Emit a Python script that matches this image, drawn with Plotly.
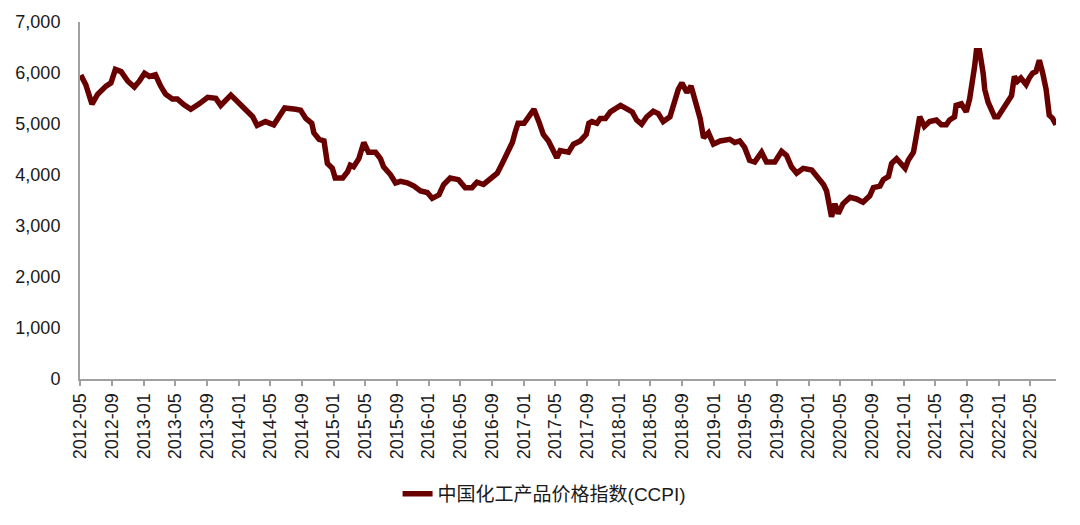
import plotly.graph_objects as go

dates = [
    "2012-05-04", "2012-05-23", "2012-06-16", "2012-07-08", "2012-08-09", "2012-08-28",
    "2012-09-14", "2012-10-06", "2012-11-01", "2012-11-26", "2012-12-15", "2013-01-04",
    "2013-01-23", "2013-02-15", "2013-03-07", "2013-03-26", "2013-04-21", "2013-05-10",
    "2013-06-05", "2013-07-01", "2013-08-02", "2013-09-04", "2013-10-05", "2013-10-24",
    "2013-12-02", "2014-01-04", "2014-02-05", "2014-02-24", "2014-03-13", "2014-04-14",
    "2014-05-16", "2014-06-07", "2014-06-27", "2014-08-08", "2014-08-27", "2014-09-16",
    "2014-10-09", "2014-10-17", "2014-11-06", "2014-11-25", "2014-12-08", "2014-12-27",
    "2015-01-07", "2015-01-22", "2015-02-05", "2015-02-24", "2015-03-06", "2015-03-19",
    "2015-04-08", "2015-04-27", "2015-05-15", "2015-06-11", "2015-06-30", "2015-07-12",
    "2015-08-08", "2015-08-27", "2015-09-15", "2015-10-11", "2015-11-06", "2015-12-01",
    "2015-12-27", "2016-01-15", "2016-02-10", "2016-02-28", "2016-03-24", "2016-04-25",
    "2016-05-21", "2016-06-16", "2016-07-05", "2016-07-30", "2016-08-25", "2016-09-21",
    "2016-10-10", "2016-10-29", "2016-11-18", "2016-11-30", "2016-12-10", "2017-01-02",
    "2017-01-21", "2017-02-09", "2017-02-28", "2017-03-17", "2017-04-06", "2017-04-25",
    "2017-05-08", "2017-05-21", "2017-06-22", "2017-07-11", "2017-08-06", "2017-08-29",
    "2017-09-08", "2017-09-20", "2017-10-09", "2017-10-22", "2017-11-11", "2017-11-30",
    "2017-12-19", "2018-01-08", "2018-01-27", "2018-02-22", "2018-03-11", "2018-03-30",
    "2018-04-19", "2018-05-14", "2018-06-02", "2018-06-21", "2018-07-17", "2018-07-29",
    "2018-08-18", "2018-09-01", "2018-09-20", "2018-10-06", "2018-10-21", "2018-11-10",
    "2018-11-23", "2018-12-12", "2018-12-31", "2019-01-26", "2019-03-04", "2019-03-23",
    "2019-04-11", "2019-04-30", "2019-05-19", "2019-06-08", "2019-07-04", "2019-07-23",
    "2019-08-24", "2019-09-19", "2019-10-08", "2019-10-27", "2019-11-16", "2019-12-11",
    "2020-01-13", "2020-02-08", "2020-02-27", "2020-03-10", "2020-03-22", "2020-03-29",
    "2020-04-11", "2020-04-24", "2020-05-12", "2020-06-08", "2020-07-03", "2020-07-28",
    "2020-08-23", "2020-09-06", "2020-10-01", "2020-10-14", "2020-11-03", "2020-11-15",
    "2020-12-04", "2020-12-23", "2021-01-06", "2021-01-18", "2021-02-07", "2021-02-17",
    "2021-02-26", "2021-03-03", "2021-03-21", "2021-04-10", "2021-05-06", "2021-05-25",
    "2021-06-13", "2021-06-26", "2021-07-15", "2021-07-21", "2021-08-10", "2021-08-29",
    "2021-09-11", "2021-09-24", "2021-09-30", "2021-10-07", "2021-10-19", "2021-11-02",
    "2021-11-08", "2021-11-21", "2021-12-04", "2021-12-16", "2021-12-29", "2022-01-18",
    "2022-02-06", "2022-02-19", "2022-03-02", "2022-03-14", "2022-03-27", "2022-04-16",
    "2022-04-28", "2022-05-11", "2022-05-24", "2022-06-06", "2022-06-19", "2022-07-02",
    "2022-07-14", "2022-07-27", "2022-08-09",
]

ccpi = [
    5960, 5774, 5390, 5585, 5744, 5806,
    6072, 6028, 5839, 5725, 5839, 5996,
    5933, 5964, 5744, 5585, 5490, 5490,
    5376, 5288, 5395, 5522, 5503, 5364,
    5566, 5395, 5237, 5142, 4972, 5047,
    4985, 5174, 5313, 5288, 5269, 5110,
    5015, 4826, 4700, 4668, 4226, 4131,
    3941, 3941, 3941, 4067, 4193, 4161,
    4320, 4636, 4446, 4446, 4320, 4161,
    4004, 3846, 3877, 3846, 3782, 3687,
    3656, 3542, 3611, 3814, 3941, 3909,
    3751, 3751, 3858, 3814, 3909, 4036,
    4226, 4415, 4636, 4858, 5015, 5015,
    5142, 5288, 5047, 4795, 4668, 4478,
    4339, 4478, 4446, 4605, 4668, 4795,
    5015, 5047, 5015, 5110, 5110, 5237,
    5288, 5364, 5313, 5237, 5079, 4996,
    5142, 5249, 5205, 5047, 5142, 5364,
    5679, 5806, 5617, 5744, 5490, 5110,
    4731, 4826, 4605, 4668, 4700, 4636,
    4668, 4541, 4288, 4256, 4446, 4256,
    4256, 4465, 4383, 4161, 4036, 4131,
    4099, 3941, 3814, 3687, 3340, 3182,
    3435, 3245, 3435, 3561, 3530, 3466,
    3593, 3751, 3782, 3909, 3972, 4226,
    4320, 4226, 4131, 4288, 4446, 4731,
    5079, 5142, 4953, 5047, 5079, 4985,
    4985, 5079, 5142, 5364, 5395, 5237,
    5490, 5839, 6123, 6438, 6438, 5996,
    5679, 5427, 5269, 5142, 5142, 5300,
    5427, 5554, 5933, 5839, 5901, 5774,
    5901, 5996, 6028, 6249, 5996, 5679,
    5174, 5110, 4985,
]

series_name = "中国化工产品价格指数(CCPI)"
y_ticks = [0, 1000, 2000, 3000, 4000, 5000, 6000, 7000]

FONT = "Liberation Sans, Arial, Noto Sans CJK SC, sans-serif"
LINE_COLOR = "#680000"
AXIS_COLOR = "#A0A0A0"

fig = go.Figure()
fig.add_trace(go.Scatter(
    x=dates, y=ccpi, mode="lines", name=series_name,
    line=dict(color=LINE_COLOR, width=5.5, shape="linear"),
))

fig.update_layout(
    width=1080, height=525,
    margin=dict(l=80, r=24, t=17, b=139),
    paper_bgcolor="white", plot_bgcolor="white",
    font=dict(family=FONT, size=18, color="#1a1a1a"),
    showlegend=True,
    legend=dict(
        orientation="h", x=0.476, xanchor="center", y=-0.322, yanchor="middle",
        font=dict(size=19, color="#1a1a1a"), bgcolor="rgba(0,0,0,0)",
    ),
    xaxis=dict(
        type="date",
        range=["2012-05-01", "2022-08-09"],
        tick0="2012-05-01", dtick="M4", tickformat="%Y-%m",
        tickangle=-90,
        showgrid=False, zeroline=False,
        showline=True, linecolor=AXIS_COLOR, linewidth=2,
        ticks="outside", ticklen=5, tickwidth=1.5, tickcolor=AXIS_COLOR,
        tickfont=dict(size=18, color="#1a1a1a"),
    ),
    yaxis=dict(
        range=[0, 7000],
        tickvals=y_ticks,
        tickformat=",",
        showgrid=False, zeroline=False,
        showline=True, linecolor=AXIS_COLOR, linewidth=2,
        ticks="", ticklabelstandoff=14,
        tickfont=dict(size=18, color="#1a1a1a"),
    ),
)

fig.write_html("out.html")
